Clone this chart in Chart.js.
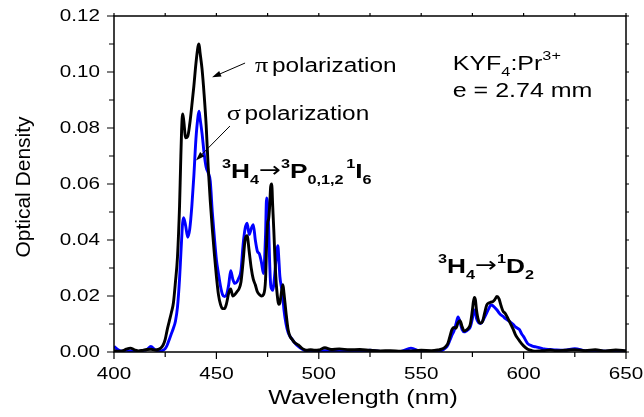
<!DOCTYPE html>
<html>
<head>
<meta charset="utf-8">
<script src="https://cdn.jsdelivr.net/npm/chart.js@4.4.0/dist/chart.umd.min.js"></script>
<style>
  html, body { margin: 0; padding: 0; background: #fff; }
  #wrap { width: 644px; height: 417px; }
</style>
</head>
<body>
<div id="wrap"><canvas id="odChart" width="644" height="417"></canvas></div>
<script>
// wavelength grid (nm), shared by both spectra
const wavelengths = [
    400, 402, 404, 406, 408, 410, 412, 414, 416, 418, 420, 422, 423, 424, 425, 426, 427, 428, 429, 430,
    431, 432, 432.5, 433, 433.5, 434, 435, 436, 437, 438, 439, 440, 441, 441.5, 442, 443, 444, 445, 446, 447,
    448, 449, 450, 451, 452, 453, 454, 455, 456, 457, 458, 459, 460, 461, 462, 463, 464, 465, 466, 467,
    468, 469, 470, 471, 472, 473, 474, 474.5, 475, 475.5, 476, 476.5, 477, 477.5, 478, 479, 480, 480.5, 481, 482,
    482.5, 483, 484, 485, 486, 487, 488, 490, 492, 494, 496, 498, 500, 503, 506, 510, 515, 520, 525, 530,
    535, 540, 545, 550, 555, 558, 560, 562, 563, 564, 565, 566, 567, 568, 569, 570, 571, 572, 573, 574,
    575, 575.5, 576, 576.5, 577, 578, 579, 580, 581, 582, 583, 584, 585, 586, 587, 588, 589, 590, 591, 592,
    593, 594, 595, 596, 597, 598, 599, 600, 602, 604, 606, 608, 610, 613, 616, 620, 625, 630, 635, 640,
    645, 650
];

// pi polarization (black)
const piValues = [
    0.0005, 0.0003, 0.0004, 0.0010, 0.0014, 0.0008, 0.0004, 0.0006, 0.0009, 0.0010, 0.0007, 0.0010, 0.0015, 0.0025, 0.0045, 0.0080, 0.0110, 0.0140, 0.0175, 0.0250,
    0.0340, 0.0520, 0.0660, 0.0790, 0.0850, 0.0830, 0.0765, 0.0770, 0.0815, 0.0880, 0.0950, 0.1030, 0.1090, 0.1100, 0.1070, 0.1010, 0.0920, 0.0810, 0.0660, 0.0540,
    0.0440, 0.0350, 0.0270, 0.0205, 0.0170, 0.0155, 0.0155, 0.0175, 0.0210, 0.0225, 0.0200, 0.0205, 0.0215, 0.0225, 0.0250, 0.0320, 0.0400, 0.0415, 0.0360, 0.0300,
    0.0260, 0.0240, 0.0215, 0.0205, 0.0200, 0.0205, 0.0260, 0.0380, 0.0460, 0.0475, 0.0520, 0.0590, 0.0600, 0.0520, 0.0440, 0.0270, 0.0185, 0.0170, 0.0175, 0.0225,
    0.0240, 0.0210, 0.0140, 0.0080, 0.0055, 0.0045, 0.0035, 0.0025, 0.0012, 0.0006, 0.0008, 0.0006, 0.0007, 0.0015, 0.0009, 0.0011, 0.0008, 0.0009, 0.0006, 0.0004,
    0.0005, 0.0003, 0.0004, 0.0006, 0.0005, 0.0007, 0.0010, 0.0020, 0.0030, 0.0055, 0.0080, 0.0088, 0.0085, 0.0105, 0.0112, 0.0090, 0.0075, 0.0078, 0.0085, 0.0100,
    0.0150, 0.0180, 0.0195, 0.0185, 0.0150, 0.0112, 0.0103, 0.0110, 0.0140, 0.0168, 0.0175, 0.0178, 0.0180, 0.0188, 0.0198, 0.0190, 0.0165, 0.0145, 0.0138, 0.0125,
    0.0110, 0.0095, 0.0080, 0.0062, 0.0050, 0.0040, 0.0030, 0.0022, 0.0010, 0.0005, 0.0003, 0.0004, 0.0005, 0.0007, 0.0005, 0.0006, 0.0008, 0.0005, 0.0008, 0.0004,
    0.0007, 0.0005
];

// sigma polarization (blue)
const sigmaValues = [
    0.0020, 0.0008, 0.0003, 0.0006, 0.0004, 0.0003, 0.0002, 0.0005, 0.0008, 0.0020, 0.0008, 0.0004, 0.0004, 0.0006, 0.0012, 0.0025, 0.0045, 0.0065, 0.0085, 0.0110,
    0.0160, 0.0260, 0.0330, 0.0400, 0.0460, 0.0480, 0.0450, 0.0410, 0.0440, 0.0520, 0.0630, 0.0760, 0.0840, 0.0860, 0.0835, 0.0780, 0.0710, 0.0660, 0.0640, 0.0610,
    0.0500, 0.0410, 0.0330, 0.0280, 0.0235, 0.0205, 0.0198, 0.0205, 0.0240, 0.0290, 0.0260, 0.0245, 0.0250, 0.0265, 0.0290, 0.0380, 0.0440, 0.0460, 0.0420, 0.0440,
    0.0455, 0.0400, 0.0360, 0.0350, 0.0320, 0.0280, 0.0420, 0.0550, 0.0530, 0.0450, 0.0320, 0.0240, 0.0225, 0.0220, 0.0240, 0.0320, 0.0380, 0.0330, 0.0270, 0.0220,
    0.0190, 0.0150, 0.0100, 0.0070, 0.0055, 0.0045, 0.0035, 0.0020, 0.0010, 0.0003, 0.0002, 0.0003, 0.0003, 0.0005, 0.0004, 0.0003, 0.0002, 0.0002, 0.0006, 0.0002,
    0.0001, 0.0002, 0.0014, 0.0002, 0.0002, 0.0003, 0.0005, 0.0015, 0.0025, 0.0042, 0.0060, 0.0075, 0.0100, 0.0125, 0.0105, 0.0080, 0.0072, 0.0075, 0.0080, 0.0090,
    0.0120, 0.0140, 0.0150, 0.0140, 0.0120, 0.0105, 0.0102, 0.0110, 0.0125, 0.0140, 0.0155, 0.0168, 0.0165, 0.0158, 0.0150, 0.0140, 0.0132, 0.0127, 0.0120, 0.0115,
    0.0110, 0.0104, 0.0098, 0.0090, 0.0085, 0.0080, 0.0065, 0.0055, 0.0030, 0.0022, 0.0018, 0.0015, 0.0011, 0.0009, 0.0007, 0.0006, 0.0012, 0.0005, 0.0004, 0.0003,
    0.0003, 0.0003
];

const xTicks = [400, 450, 500, 550, 600, 650];
const yTicks = [0, 0.02, 0.04, 0.06, 0.08, 0.10, 0.12];
const xTitle = 'Wavelength (nm)';
const yTitle = 'Optical Density';

const FONT = '"Liberation Sans", Arial, sans-serif';
const SERIF = '"Liberation Serif", "Times New Roman", serif';
const STRETCH = 1.25; // the reference text is drawn wide

// draws a run of text pieces (sub/superscripts) starting at x, baseline y
function drawRich(ctx, x, y, parts, sx) {
    ctx.save();
    ctx.translate(x, y);
    ctx.scale(sx, 1);
    ctx.textBaseline = 'alphabetic';
    ctx.textAlign = 'left';
    let cx = 0;
    for (const p of parts) {
        ctx.font = (p.weight || 'normal') + ' ' + p.size + 'px ' + (p.family || FONT);
        ctx.fillText(p.t, cx, p.dy || 0);
        cx += ctx.measureText(p.t).width + (p.gap || 0);
    }
    ctx.restore();
}

function drawArrow(ctx, x1, y1, x2, y2) {
    const ang = Math.atan2(y2 - y1, x2 - x1);
    const len = 9, wid = 3;
    ctx.save();
    ctx.strokeStyle = '#000';
    ctx.fillStyle = '#000';
    ctx.lineWidth = 1;
    ctx.beginPath();
    ctx.moveTo(x1, y1);
    ctx.lineTo(x2 - Math.cos(ang) * len * 0.8, y2 - Math.sin(ang) * len * 0.8);
    ctx.stroke();
    ctx.beginPath();
    ctx.moveTo(x2, y2);
    ctx.lineTo(x2 - Math.cos(ang) * len - Math.sin(ang) * wid, y2 - Math.sin(ang) * len + Math.cos(ang) * wid);
    ctx.lineTo(x2 - Math.cos(ang) * len + Math.sin(ang) * wid, y2 - Math.sin(ang) * len - Math.cos(ang) * wid);
    ctx.closePath();
    ctx.fill();
    ctx.restore();
}

const frameAndText = {
    id: 'frameAndText',
    afterDatasetsDraw(chart) {
        const ctx = chart.ctx;
        const xs = chart.scales.x, ys = chart.scales.y;
        const a = chart.chartArea;
        const px = v => xs.getPixelForValue(v);
        const py = v => ys.getPixelForValue(v);

        ctx.save();
        ctx.strokeStyle = '#000';
        ctx.lineWidth = 1.5;
        ctx.strokeRect(a.left, a.top, a.right - a.left, a.bottom - a.top);

        // ticks: majors + minor halfway, outward on bottom/left, small on top/right
        ctx.lineWidth = 1.2;
        ctx.beginPath();
        for (let i = 0; i < xTicks.length; i++) {
            const x = px(xTicks[i]);
            ctx.moveTo(x, a.bottom); ctx.lineTo(x, a.bottom + 7);
            ctx.moveTo(x, a.top); ctx.lineTo(x, a.top - 3);
            if (i < xTicks.length - 1) {
                const m = px((xTicks[i] + xTicks[i + 1]) / 2);
                ctx.moveTo(m, a.bottom); ctx.lineTo(m, a.bottom + 5);
                ctx.moveTo(m, a.top); ctx.lineTo(m, a.top - 3);
            }
        }
        for (let i = 0; i < yTicks.length; i++) {
            const y = py(yTicks[i]);
            ctx.moveTo(a.left, y); ctx.lineTo(a.left - 7, y);
            ctx.moveTo(a.right, y); ctx.lineTo(a.right + 3, y);
            if (i < yTicks.length - 1) {
                const m = py((yTicks[i] + yTicks[i + 1]) / 2);
                ctx.moveTo(a.left, m); ctx.lineTo(a.left - 5, m);
                ctx.moveTo(a.right, m); ctx.lineTo(a.right + 3, m);
            }
        }
        ctx.stroke();

        // tick labels
        ctx.fillStyle = '#000';
        ctx.font = '16.5px ' + FONT;
        ctx.textBaseline = 'middle';
        for (const t of xTicks) {
            ctx.save();
            ctx.translate(px(t), a.bottom + 22);
            ctx.scale(STRETCH, 1);
            ctx.textAlign = 'center';
            ctx.fillText(String(t), 0, 0);
            ctx.restore();
        }
        for (const t of yTicks) {
            ctx.save();
            ctx.translate(a.left - 14, py(t));
            ctx.scale(STRETCH, 1);
            ctx.textAlign = 'right';
            ctx.fillText(t.toFixed(2), 0, 0);
            ctx.restore();
        }

        // axis titles
        ctx.save();
        ctx.font = '20px ' + FONT;
        ctx.textAlign = 'center';
        ctx.textBaseline = 'alphabetic';
        ctx.translate(363, 404);
        ctx.scale(STRETCH, 1);
        ctx.fillText(xTitle, 0, 0);
        ctx.restore();

        ctx.save();
        ctx.font = '21px ' + FONT;
        ctx.textAlign = 'center';
        ctx.textBaseline = 'alphabetic';
        ctx.translate(30, (a.top + a.bottom) / 2 + 3);
        ctx.rotate(-Math.PI / 2);
        ctx.fillText(yTitle, 0, 0);
        ctx.restore();

        // annotations, anchored in data coordinates
        drawRich(ctx, px(468.8), py(0.1001), [
            {t: '\u03C0', size: 21, family: SERIF, gap: 3},
            {t: 'polarization', size: 19.5}
        ], STRETCH);
        drawArrow(ctx, px(464.0), py(0.1032), px(447.9), py(0.0981));

        drawRich(ctx, px(455.0), py(0.0829), [
            {t: '\u03C3', size: 21, family: SERIF, gap: 3},
            {t: 'polarization', size: 19.5}
        ], STRETCH);
        drawArrow(ctx, px(456.6), py(0.0807), px(440.0), py(0.0684));

        drawRich(ctx, px(452.7), py(0.0621), [
            {t: '3', size: 13, weight: 'bold', dy: -10},
            {t: 'H', size: 21, weight: 'bold'},
            {t: '4', size: 13, weight: 'bold', dy: 6},
            {t: '\u2192', size: 21, family: '"DejaVu Sans", sans-serif', dy: -1},
            {t: '3', size: 13, weight: 'bold', dy: -10},
            {t: 'P', size: 21, weight: 'bold'},
            {t: '0,1,2', size: 13, weight: 'bold', dy: 6, gap: 2},
            {t: '1', size: 13, weight: 'bold', dy: -10},
            {t: 'I', size: 21, weight: 'bold'},
            {t: '6', size: 13, weight: 'bold', dy: 6}
        ], STRETCH);

        drawRich(ctx, px(558.2), py(0.0283), [
            {t: '3', size: 13, weight: 'bold', dy: -10},
            {t: 'H', size: 21, weight: 'bold'},
            {t: '4', size: 13, weight: 'bold', dy: 6},
            {t: '\u2192', size: 21, family: '"DejaVu Sans", sans-serif', dy: -1},
            {t: '1', size: 13, weight: 'bold', dy: -10},
            {t: 'D', size: 21, weight: 'bold'},
            {t: '2', size: 13, weight: 'bold', dy: 6}
        ], STRETCH);

        drawRich(ctx, px(565.4), py(0.1007), [
            {t: 'KYF', size: 20},
            {t: '4', size: 13, dy: 6},
            {t: ':Pr', size: 20},
            {t: '3+', size: 13, dy: -10}
        ], STRETCH);
        drawRich(ctx, px(565.4), py(0.0912), [
            {t: 'e = 2.74 mm', size: 20}
        ], STRETCH);

        ctx.restore();
    }
};

const ctx = document.getElementById('odChart').getContext('2d');
const odChart = new Chart(ctx, {
    type: 'line',
    data: {
        datasets: [
            {
                label: '\u03C0 polarization',
                data: wavelengths.map((w, i) => ({x: w, y: piValues[i]})),
                borderColor: '#000000',
                borderWidth: 2.9,
                pointRadius: 0,
                tension: 0,
                cubicInterpolationMode: 'monotone'
            },
            {
                label: '\u03C3 polarization',
                data: wavelengths.map((w, i) => ({x: w, y: sigmaValues[i]})),
                borderColor: '#0000ff',
                borderWidth: 2.9,
                pointRadius: 0,
                tension: 0,
                cubicInterpolationMode: 'monotone'
            }
        ]
    },
    options: {
        responsive: false,
        animation: false,
        devicePixelRatio: 1,
        layout: {padding: {left: 114, right: 18, top: 16, bottom: 65}},
        plugins: {legend: {display: false}, tooltip: {enabled: false}},
        scales: {
            x: {type: 'linear', min: 400, max: 650, display: false},
            y: {type: 'linear', min: 0, max: 0.12, display: false}
        }
    },
    plugins: [frameAndText]
});
</script>
</body>
</html>
